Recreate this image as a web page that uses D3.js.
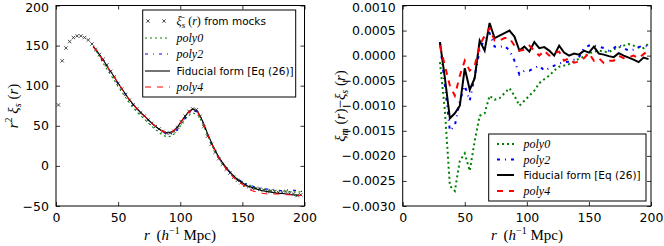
<!DOCTYPE html>
<html><head><meta charset="utf-8">
<script src="https://cdn.jsdelivr.net/npm/d3@7"></script>
<style>
body{margin:0;background:#fff;}
svg{display:block;}
</style></head><body>
<svg id="c" width="664" height="246"></svg>
<script>
// ---------- data ----------
const mockR = [2,5,8,11,14,17,20,23,26,29,32,35,38,41,44,47,50,53,56,59,62,65,68,71,74,77,80,83,86,89,92,95,98,101,104,107,110,113,116,119,122,125,128,131,134,137,140,143,146,149,152,155,158,161,164,167,170,173,176,179,182,185,188,191,194,197];
const mockXi = [76,131,147,155,160,162,162,160,157,152,145,139,133,126,118,111,103,96,89,82,76,71,66,62,57,53,49,46,43,41,41,43,48,55,62,68,71,70,62,49,37,27,17,9,2,-4,-9,-14,-18,-21,-24,-26,-28,-28,-29,-30,-32,-31,-32,-33,-33,-32,-34,-35,-37,-36];

const fitR = [30,34,38,42,46,50,54,58,62,66,70,74,78,82,86,90,94,98,102,106,110,114,118,122,126,130,134,138,142,146,150,154,158,162,166,170,174,178,182,186,190,194,198];
const fidLeft  = [149,141,132,122,113,103,94,85,77,70,64,58,52,47,43,41,43,49,58,66,71,68,56,40,26,14,4,-4,-11,-17,-21,-25,-27,-29,-31,-32,-33,-34,-34.5,-35,-36,-36.5,-37];
const poly0Left= [149,139,128,118,109,99,90,81,73,66,60,54,48,43,38,36,38,45,54,62,66,64,53,38,24,12,3,-5,-11,-16,-20,-23,-26,-28,-29,-30,-31,-31,-31,-32,-32,-33,-32];
const poly2Left= [149,140,130,121,112,102,93,84,77,70,64,58,52,47,42,39,41,46,55,64,69,67,55,39,25,13,3,-5,-11,-16,-20,-23,-25,-27,-28,-29,-29,-30,-31,-30,-30,-31,-32];
const poly4Left= [149,141,131,122,113,103,94,85,77,70,64,58,52,47,43,41,43,49,58,66,70,67,55,39,25,13,3,-6,-13,-19,-23,-28,-31,-33,-34,-35,-35,-35,-35,-36,-36,-37,-37];

const fidRes  = [0.00027,-0.00045,-0.00125,-0.00115,-0.00100,-0.00025,-0.00068,-0.00045,0.00030,0.00010,0.00065,0.00035,0.00040,0.00045,0.00050,0.00038,0.00010,0.00018,0.00008,0.00027,0.00015,0.00017,0.00010,0.00000,0.00020,0.00006,0.00000,0.00004,0.00002,0.00010,0.00006,0.00018,0.00004,0.00002,-0.00001,-0.00003,0.00005,0.00000,-0.00004,-0.00008,-0.00013,-0.00004,-0.00007];
const poly0Res= [-0.00013,-0.0011,-0.0026,-0.0027,-0.0021,-0.00195,-0.0023,-0.0017,-0.0012,-0.00115,-0.0008,-0.00088,-0.00085,-0.00075,-0.00065,-0.0008,-0.001,-0.0009,-0.0008,-0.0007,-0.00055,-0.00047,-0.0004,-0.0003,-0.00022,-0.0002,-0.00017,-0.00012,-0.00006,-0.00002,0.00004,0.00008,0.0001,0.00008,0.00007,0.00013,0.00016,0.0002,0.00023,0.0002,0.00016,0.00015,0.00024];
const poly2Res= [0.00027,-0.0006,-0.0015,-0.0014,-0.0009,-0.0006,-0.0009,-0.0004,0.0001,0.00035,0.00045,0.00018,0.00017,0.0002,0.0001,-0.0001,-0.00038,-0.0003,-0.0003,-0.00025,-0.0002,-0.0003,-0.00025,-0.0002,-0.00016,-0.00013,-0.00012,-0.00008,-0.00003,0.00015,0.0002,0.0002,0.00018,0.00015,0.0001,0.00015,0.00022,0.00015,0.0001,0.00012,0.00017,0.0002,0.00018];
const poly4Res= [0.0002,-0.0002,-0.0006,-0.0008,-0.0004,-0.0001,-0.0003,-0.0002,0.0002,0.0004,0.00055,0.0003,0.0003,0.00035,0.00035,0.0002,0.0001,0.00012,0.0002,0.0001,0.0,0.0001,0.0,0.00005,0.00008,-0.0001,-0.00005,-0.00014,-0.00012,-0.00005,0.00005,-0.0001,-0.00005,-0.00015,-0.0001,-0.0001,0.0,-0.00005,-0.00003,0.0,-0.00005,0.00003,0.0001];

const xTicks = [0,50,100,150,200];
const yTicksL = [-50,0,50,100,150,200];
const yTicksR = [-0.003,-0.0025,-0.002,-0.0015,-0.001,-0.0005,0,0.0005,0.001];

// ---------- styles ----------
const series = [
  {name:"poly0", color:"#008000", dash:"2,3"},
  {name:"poly2", color:"#0000ff", dash:"3,5,1,5"},
  {name:"fid",   color:"#000000", dash:null},
  {name:"poly4", color:"#ff0000", dash:"6,6"}
];
const SANS = "DejaVu Sans";
const SER = "Liberation Serif";

const svg = d3.select("#c");
const PT=5.5, PB=206;

function panel(x0, x1, yDomain, yTicks, fmt){
  const g = svg.append("g");
  const x = d3.scaleLinear().domain([0,200]).range([x0,x1]);
  const y = d3.scaleLinear().domain(yDomain).range([PB,PT]);
  const clip = "clip"+Math.round(x0);
  svg.append("clipPath").attr("id",clip).append("rect")
     .attr("x",x0).attr("y",PT).attr("width",x1-x0).attr("height",PB-PT);
  const tl=4;
  g.append("g").attr("transform",`translate(0,${PB})`)
   .call(d3.axisBottom(x).tickValues(xTicks).tickSize(-tl).tickPadding(7).tickFormat(d3.format("d")));
  g.append("g").attr("transform",`translate(0,${PT})`)
   .call(d3.axisTop(x).tickValues(xTicks).tickSize(-tl).tickFormat(""));
  const ya = g.append("g").attr("transform",`translate(${x0},0)`)
   .call(d3.axisLeft(y).tickValues(yTicks).tickSize(-tl).tickPadding(7).tickFormat(fmt));
  g.append("g").attr("transform",`translate(${x1},0)`)
   .call(d3.axisRight(y).tickValues(yTicks).tickSize(-tl).tickFormat(""));
  g.selectAll(".domain").remove();
  g.selectAll(".tick line").attr("stroke","#000").attr("stroke-width",0.8);
  g.selectAll(".tick text").style("font-size","12.5px").attr("fill","#000").style("font-family",SANS);
  // keep the top-most label inside the picture
  ya.selectAll(".tick").filter(d=>d===yDomain[1]).select("text").attr("dy","0.45em");
  const plot = svg.append("g").attr("clip-path",`url(#${clip})`);
  return {g,x,y,plot,x0,x1};
}

// ---------- left panel ----------
const L = panel(56, 304.5, [-50,200], yTicksL, d3.format("d"));
const lineL = d3.line().x(d=>L.x(d[0])).y(d=>L.y(d[1]));
L.plot.selectAll("path.mk").data(d3.zip(mockR,mockXi)).join("path")
  .attr("d",d=>{const cx=L.x(d[0]),cy=L.y(d[1]),s=1.7;return `M${cx-s},${cy-s}L${cx+s},${cy+s}M${cx-s},${cy+s}L${cx+s},${cy-s}`;})
  .attr("stroke","#222").attr("stroke-width",0.8).attr("fill","none");
const leftData = [poly0Left, poly2Left, fidLeft, poly4Left];
series.forEach((s,i)=>{
  L.plot.append("path").datum(d3.zip(fitR,leftData[i])).attr("d",lineL)
    .attr("fill","none").attr("stroke",s.color).attr("stroke-width",1.1)
    .attr("stroke-dasharray",s.dash);
});
svg.append("rect").attr("x",56).attr("y",PT).attr("width",248.5).attr("height",PB-PT)
  .attr("fill","none").attr("stroke","#000").attr("stroke-width",1);

// ---------- right panel ----------
const R = panel(402.7, 651, [-0.003,0.001], yTicksR, d3.format(".4f"));
const lineR = d3.line().x(d=>R.x(d[0])).y(d=>R.y(d[1]));
const rightData = [poly0Res, poly2Res, fidRes, poly4Res];
series.forEach((s,i)=>{
  R.plot.append("path").datum(d3.zip(fitR,rightData[i])).attr("d",lineR)
    .attr("fill","none").attr("stroke",s.color).attr("stroke-width",2)
    .attr("stroke-dasharray",s.dash).attr("stroke-linejoin","miter");
});
svg.append("rect").attr("x",402.7).attr("y",PT).attr("width",248.3).attr("height",PB-PT)
  .attr("fill","none").attr("stroke","#000").attr("stroke-width",1);

// ---------- math label helpers ----------
function mathLabel(t, parts){
  parts.forEach(p=>{
    const ts = t.append("tspan").text(p.t);
    ts.style("font-family", p.ff || SER);
    if(p.it) ts.style("font-style","italic");
    if(p.fs) ts.style("font-size",p.fs+"px");
    if(p.dy!==undefined) ts.attr("dy",p.dy);
    if(p.dx!==undefined) ts.attr("dx",p.dx);
  });
}

[180,527].forEach(cx=>{
  const t = svg.append("text").attr("x",cx).attr("y",240).attr("text-anchor","middle")
    .style("font-size","15px");
  mathLabel(t,[{t:"r",it:1},{t:" (",dx:3},{t:"h",it:1},{t:"−1",fs:10,dy:-6},{t:" Mpc)",dy:6}]);
});

{
  const t = svg.append("text").attr("transform","translate(18,106) rotate(-90)")
    .attr("text-anchor","middle").style("font-size","15px");
  mathLabel(t,[{t:"r",it:1},{t:"2",fs:10,dy:-6},{t:" ξ",it:1,dy:6},{t:"s",it:1,fs:10,dy:3},{t:" (",dy:-3},{t:"r",it:1},{t:")"}]);
}
{
  const t = svg.append("text").attr("transform","translate(345,106) rotate(-90)")
    .attr("text-anchor","middle").style("font-size","15px");
  mathLabel(t,[{t:"ξ",it:1},{t:"m",it:1,fs:10,dy:3},{t:" (",dy:-3},{t:"r",it:1},{t:")−"},{t:"ξ",it:1},{t:"s",it:1,fs:10,dy:3},{t:" (",dy:-3},{t:"r",it:1},{t:")"}]);
}

// ---------- legends ----------
function legend(bx,by,bw,bh,rows,hx0,hx1,tx,lw){
  svg.append("rect").attr("x",bx).attr("y",by).attr("width",bw).attr("height",bh)
    .attr("fill","#fff").attr("stroke","#000").attr("stroke-width",1);
  rows.forEach(r=>{
    if(r.mock){
      [hx0+3,hx0+19].forEach(cx=>{
        const s=1.7;
        svg.append("path").attr("d",`M${cx-s},${r.y-s}L${cx+s},${r.y+s}M${cx-s},${r.y+s}L${cx+s},${r.y-s}`)
          .attr("stroke","#222").attr("stroke-width",0.8);
      });
    } else {
      svg.append("line").attr("x1",hx0).attr("x2",hx1).attr("y1",r.y).attr("y2",r.y)
        .attr("stroke",r.s.color).attr("stroke-width",lw).attr("stroke-dasharray",r.s.dash);
    }
    const t = svg.append("text").attr("x",tx).attr("y",r.y+4).style("font-size","10.5px");
    mathLabel(t,r.parts);
  });
}
const lp0 = [{t:"poly0",it:1,fs:12}], lp2=[{t:"poly2",it:1,fs:12}], lp4=[{t:"poly4",it:1,fs:12}];
const lfid = [{t:"Fiducial form [Eq (26)]",ff:SANS}];
const lmock = [{t:"ξ̄",it:1,fs:12},{t:"s",it:1,fs:9,dy:3},{t:" (",fs:12,dy:-3},{t:"r",it:1,fs:12},{t:")",fs:12},{t:" from mocks",ff:SANS}];
legend(142.7,10,153,87,[
  {y:21,mock:1,parts:lmock},
  {y:38,s:series[0],parts:lp0},
  {y:54,s:series[1],parts:lp2},
  {y:71,s:series[2],parts:lfid},
  {y:87,s:series[3],parts:lp4}
],145,170,176.5,1.1);
legend(488.7,134,157.3,67,[
  {y:144,s:series[0],parts:lp0},
  {y:159.5,s:series[1],parts:lp2},
  {y:175,s:series[2],parts:lfid},
  {y:191,s:series[3],parts:lp4}
],497,514,523.5,2);
</script></body></html>
